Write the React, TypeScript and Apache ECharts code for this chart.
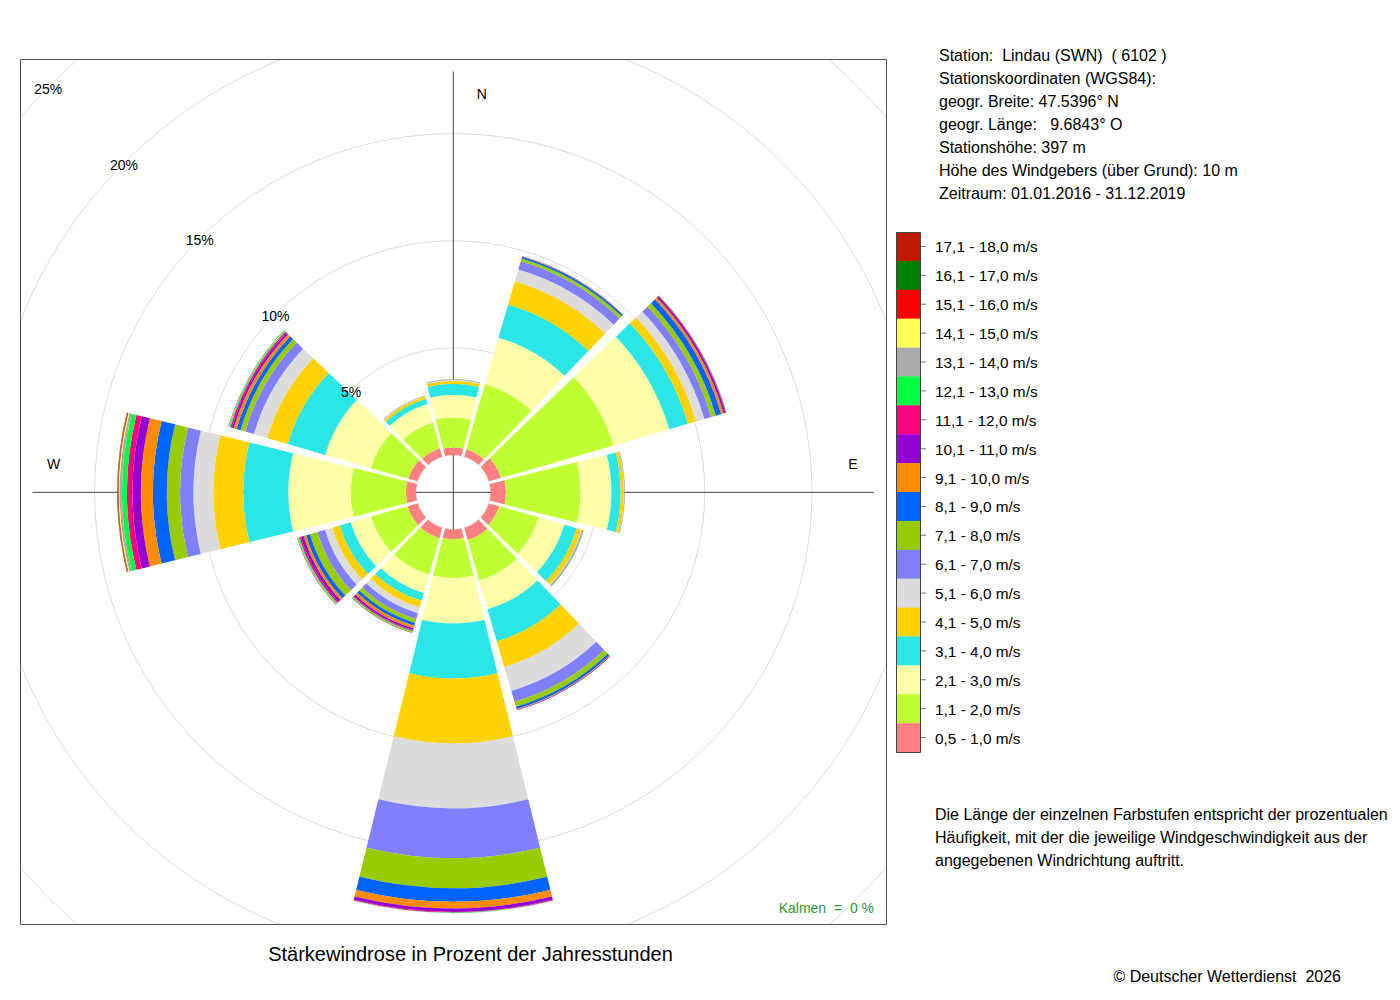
import React, { useEffect, useRef } from "react";
import * as echarts from "echarts";

// ---------- DATA ----------
const DIRECTIONS = ["N", "NNO", "ONO", "O", "OSO", "SSO", "S", "SSW", "WSW", "W", "WNW", "NNW"];
const DIR_ANGLES = [0, 30, 60, 90, 120, 150, 180, 210, 240, 270, 300, 330];

const SPEED_CLASSES = [
  "0,5 - 1,0 m/s", "1,1 - 2,0 m/s", "2,1 - 3,0 m/s", "3,1 - 4,0 m/s", "4,1 - 5,0 m/s",
  "5,1 - 6,0 m/s", "6,1 - 7,0 m/s", "7,1 - 8,0 m/s", "8,1 - 9,0 m/s", "9,1 - 10,0 m/s",
  "10,1 - 11,0 m/s", "11,1 - 12,0 m/s", "12,1 - 13,0 m/s", "13,1 - 14,0 m/s", "14,1 - 15,0 m/s",
  "15,1 - 16,0 m/s", "16,1 - 17,0 m/s", "17,1 - 18,0 m/s",
];
const CLASS_COLORS = [
  "#ff8080", "#c0ff33", "#ffffaa", "#2ae6e6", "#ffd200",
  "#dcdcdc", "#8080ff", "#99cc00", "#0064ff", "#ff8c00",
  "#9400d3", "#ff0080", "#00ff40", "#aaaaaa", "#ffff55",
  "#ff0000", "#008000", "#c01a00",
];

// percent of year hours per speed class (0,5-1,0 ... 17,1-18,0) for each direction
const N_PCT = [0.35, 1.40, 1.06, 0.51, 0.15, 0.04, 0.03, 0.01, 0, 0, 0, 0, 0, 0, 0, 0, 0, 0];
const NNO_PCT = [0.36, 3.17, 2.25, 1.61, 1.13, 0.57, 0.40, 0.14, 0.09, 0.02, 0.01, 0, 0, 0, 0, 0, 0, 0];
const ONO_PCT = [0.59, 5.46, 2.71, 0.91, 0.40, 0.40, 0.33, 0.23, 0.26, 0.12, 0.09, 0.03, 0.02, 0.01, 0, 0, 0, 0];
const O_PCT = [0.72, 3.48, 1.44, 0.43, 0.15, 0.02, 0.02, 0.01, 0, 0, 0, 0, 0, 0, 0, 0, 0, 0];
const OSO_PCT = [0.50, 1.91, 1.25, 0.60, 0.23, 0.03, 0.03, 0.03, 0.02, 0, 0, 0, 0, 0, 0, 0, 0, 0];
const SSO_PCT = [0.59, 1.96, 1.40, 1.56, 1.24, 1.17, 0.53, 0.24, 0.11, 0.04, 0.02, 0, 0, 0, 0, 0, 0, 0];
const S_PCT = [0.45, 1.82, 2.11, 2.57, 3.03, 3.03, 2.33, 1.40, 0.63, 0.31, 0.16, 0.03, 0.02, 0.01, 0, 0, 0, 0];
const SSW_PCT = [0.50, 1.77, 0.89, 0.37, 0.33, 0.28, 0.28, 0.19, 0.14, 0.12, 0.09, 0.05, 0.04, 0.01, 0.01, 0.01, 0.01, 0.01];
const WSW_PCT = [0.50, 1.77, 0.98, 0.53, 0.37, 0.35, 0.37, 0.36, 0.19, 0.12, 0.13, 0.07, 0.05, 0.02, 0.01, 0.01, 0.01, 0.01];
const W_PCT = [0.47, 2.58, 2.91, 2.10, 1.40, 0.93, 0.62, 0.62, 0.65, 0.56, 0.39, 0.26, 0.23, 0.11, 0.05, 0.03, 0.02, 0.02];
const WNW_PCT = [0.45, 1.82, 2.22, 1.82, 1.00, 0.65, 0.42, 0.23, 0.19, 0.14, 0.09, 0.07, 0.05, 0.02, 0.01, 0.01, 0.01, 0];
const NNW_PCT = [0.40, 1.26, 0.89, 0.26, 0.12, 0.02, 0.02, 0.01, 0, 0, 0, 0, 0, 0, 0, 0, 0, 0];

const SECTORS = [N_PCT, NNO_PCT, ONO_PCT, O_PCT, OSO_PCT, SSO_PCT, S_PCT, SSW_PCT, WSW_PCT, W_PCT, WNW_PCT, NNW_PCT];

const PCT_TICKS = [5, 10, 15, 20, 25];
const PCT_LABELS = ["5%", "10%", "15%", "20%", "25%"];

const COMPASS_LABELS = ["N", "E", "W"];
const COMPASS_ANGLES = [0, 90, 270];

const STATION_LINES = [
  "Station:  Lindau (SWN)  ( 6102 )",
  "Stationskoordinaten (WGS84):",
  "geogr. Breite: 47.5396° N",
  "geogr. Länge:   9.6843° O",
  "Stationshöhe: 397 m",
  "Höhe des Windgebers (über Grund): 10 m",
  "Zeitraum: 01.01.2016 - 31.12.2019",
];
const NOTE_LINES = [
  "Die Länge der einzelnen Farbstufen entspricht der prozentualen",
  "Häufigkeit, mit der die jeweilige Windgeschwindigkeit aus der",
  "angegebenen Windrichtung auftritt.",
];
const TITLE = "Stärkewindrose in Prozent der Jahresstunden";
const CALM_TEXT = "Kalmen  =  0 %";
const COPYRIGHT = "© Deutscher Wetterdienst  2026";

// ---------- LAYOUT ----------
const FONT = '"Liberation Sans", Arial, Helvetica, sans-serif';
const CX = 453.3;
const CY = 492.3;
const R_IN = 37.3;
const PX_PER_PCT = 21.42;
const R_MAX_PCT = 25;
const BOX = { x: 20, y: 59, w: 866, h: 866 };
const LEG = { x: 896, y: 232, w: 24, h: 520 };
// label offsets for compass letters (N, E, W)
const COMPASS_OFFSETS = [[28.5, 1.5], [0, -28], [0, -28]];

const sum = (a: number[]) => a.reduce((s, v) => s + v, 0);

function txt(text: string, x: number, y: number, size: number, opts: any = {}) {
  const align = opts.align || "left";
  return {
    type: "text",
    x,
    y,
    z: opts.z ?? 110,
    silent: true,
    style: {
      text,
      fill: opts.fill || "#000",
      font: `${size}px ${FONT}`,
      align,
      textAlign: align,
      verticalAlign: "middle",
      textVerticalAlign: "middle",
    },
  };
}

const App = () => {
  const ref = useRef<HTMLDivElement>(null);

  useEffect(() => {
    if (!ref.current) return;
    const chart = echarts.init(ref.current, null, { renderer: "svg" });

    const totals = SECTORS.map(sum);
    const maxTotal = Math.max(...totals);
    const gapData = DIR_ANGLES.map((a, k) => [Math.min(totals[k], totals[(k + 1) % 12]), a + 15]);
    const rOuter = R_IN + PX_PER_PCT * R_MAX_PCT;

    const barSeries = SPEED_CLASSES.map((name, c) => ({
      type: "bar",
      name,
      coordinateSystem: "polar",
      polarIndex: 0,
      stack: "rose",
      barCategoryGap: "8.5%",
      data: SECTORS.map((s) => s[c]),
      itemStyle: { color: CLASS_COLORS[c] },
      silent: true,
      z: 2,
    }));

    const graphics: any[] = [];
    // masks to clip grid circles at the plot box
    const W = 1400, H = 1000;
    [
      [0, 0, W, BOX.y],
      [0, 0, BOX.x, H],
      [BOX.x + BOX.w + 0.5, 0, W, H],
      [0, BOX.y + BOX.h, W, H],
    ].forEach(([x, y, w, h]) =>
      graphics.push({ type: "rect", z: 100, silent: true, shape: { x, y, width: w, height: h }, style: { fill: "#fff" } })
    );
    graphics.push({
      type: "rect", z: 101, silent: true,
      shape: { x: BOX.x + 0.5, y: BOX.y + 0.5, width: BOX.w, height: BOX.h - 1 },
      style: { fill: "none", stroke: "#555", lineWidth: 1 },
    });
    // station info
    STATION_LINES.forEach((l, i) => graphics.push(txt(l, 939, 55.5 + i * 23, 16)));
    // legend
    const n = SPEED_CLASSES.length;
    const lh = LEG.h / n;
    for (let j = 0; j < n; j++) {
      const c = n - 1 - j;
      const yc = LEG.y + lh * (j + 0.5);
      graphics.push({
        type: "rect", z: 105, silent: true,
        shape: { x: LEG.x, y: LEG.y + lh * j, width: LEG.w, height: lh + 0.3 },
        style: { fill: CLASS_COLORS[c] },
      });
      graphics.push({
        type: "line", z: 105, silent: true,
        shape: { x1: LEG.x + LEG.w + 1, y1: yc, x2: LEG.x + LEG.w + 6, y2: yc },
        style: { stroke: "#777", lineWidth: 1 },
      });
      graphics.push(txt(SPEED_CLASSES[c], 935, yc + 0.5, 15.4));
    }
    graphics.push({
      type: "rect", z: 106, silent: true,
      shape: { x: LEG.x + 0.5, y: LEG.y + 0.5, width: LEG.w, height: LEG.h },
      style: { fill: "none", stroke: "#444", lineWidth: 1 },
    });
    NOTE_LINES.forEach((l, i) => graphics.push(txt(l, 935, 814 + i * 23, 16)));
    graphics.push(txt(TITLE, 470.5, 954, 20, { align: "center" }));
    graphics.push(txt(COPYRIGHT, 1341, 976, 16, { align: "right" }));
    graphics.push(txt(CALM_TEXT, 874, 908, 14, { align: "right", fill: "#2a9a2a", z: 110 }));

    const option: any = {
      animation: false,
      backgroundColor: "#fff",
      polar: [
        { center: [CX, CY], radius: [R_IN, rOuter] },
        { center: [CX, CY], radius: [R_IN, rOuter] },
      ],
      angleAxis: [
        {
          polarIndex: 0, type: "category", data: DIRECTIONS, startAngle: 105, clockwise: true,
          axisLine: { show: false }, axisTick: { show: false }, axisLabel: { show: false },
          splitLine: { show: false }, splitArea: { show: false },
        },
        { polarIndex: 1, type: "value", min: 0, max: 360, startAngle: 90, clockwise: true, show: false },
      ],
      radiusAxis: [
        {
          polarIndex: 0, type: "value", min: 0, max: R_MAX_PCT, interval: 5,
          axisLine: { show: false }, axisTick: { show: false }, axisLabel: { show: false },
          splitLine: { show: true, lineStyle: { color: "#dcdcdc", width: 1 } }, splitArea: { show: false },
        },
        { polarIndex: 1, type: "value", min: 0, max: R_MAX_PCT, show: false },
      ],
      series: [
        // cross hair and compass letters (under the bars)
        {
          type: "custom", coordinateSystem: "polar", polarIndex: 1, z: 1, silent: true,
          data: [[maxTotal, 0], [maxTotal, 90]],
          renderItem: (params: any, api: any) => {
            const v = api.value(0), a = api.value(1);
            const p1 = api.coord([v, a]);
            const p2 = api.coord([v, a + 180]);
            return {
              type: "line",
              shape: { x1: p1[0], y1: p1[1], x2: p2[0], y2: p2[1] },
              style: { stroke: "#444", lineWidth: 1 },
            };
          },
        },
        {
          type: "custom", coordinateSystem: "polar", polarIndex: 1, z: 1, silent: true,
          data: COMPASS_ANGLES.map((a) => [maxTotal, a]),
          renderItem: (params: any, api: any) => {
            const cs = params.coordSys;
            const p = api.coord([api.value(0), api.value(1)]);
            const off = COMPASS_OFFSETS[params.dataIndex];
            return {
              type: "text",
              x: cs.cx + 0.95 * (p[0] - cs.cx) + off[0],
              y: cs.cy + 0.95 * (p[1] - cs.cy) + off[1],
              style: {
                text: COMPASS_LABELS[params.dataIndex], fill: "#000", font: `14px ${FONT}`,
                align: "center", textAlign: "center", verticalAlign: "middle", textVerticalAlign: "middle",
              },
            };
          },
        },
        ...barSeries,
        // white separators between the sectors
        {
          type: "custom", coordinateSystem: "polar", polarIndex: 1, z: 5, silent: true,
          data: gapData,
          renderItem: (params: any, api: any) => {
            const len = api.value(0), a = api.value(1);
            const p0 = api.coord([0, a]);
            const p1 = api.coord([len, a]);
            return {
              type: "line",
              shape: { x1: p0[0], y1: p0[1], x2: p1[0], y2: p1[1] },
              style: { stroke: "#fff", lineWidth: 3 },
            };
          },
        },
        // percent labels on the NW diagonal
        {
          type: "custom", coordinateSystem: "polar", polarIndex: 1, z: 6, silent: true,
          data: PCT_TICKS.map((p) => [p, 315]),
          renderItem: (params: any, api: any) => {
            const p = api.coord([api.value(0), api.value(1)]);
            return {
              type: "text",
              x: p[0],
              y: p[1] + 1.5,
              style: {
                text: PCT_LABELS[params.dataIndex], fill: "#000", font: `14px ${FONT}`,
                align: "center", textAlign: "center", verticalAlign: "middle", textVerticalAlign: "middle",
              },
            };
          },
        },
      ],
      graphic: { elements: graphics },
    };

    chart.setOption(option);
    return () => chart.dispose();
  }, []);

  return (
    <div
      ref={ref}
      style={{ position: "absolute", left: 0, top: 0, width: 1400, height: 1000, background: "#fff" }}
    />
  );
};

export default App;
